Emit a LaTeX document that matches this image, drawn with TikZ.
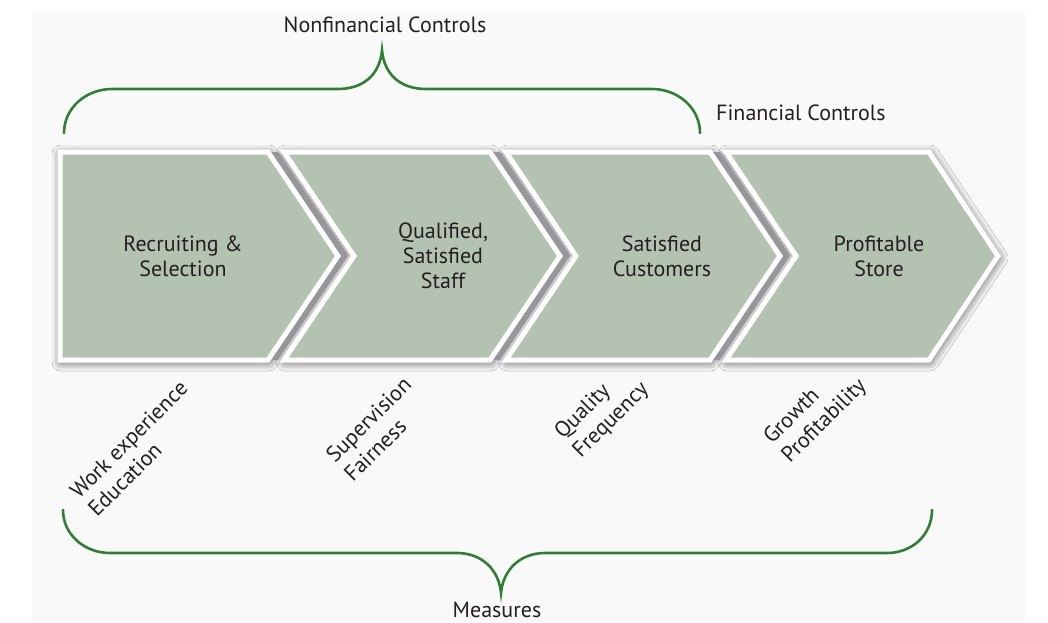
\documentclass[tikz,border=0pt]{standalone}
\usepackage{fontspec}
\setmainfont{PT Sans}
\usetikzlibrary{shadows.blur}
\definecolor{bgpanel}{HTML}{F9F9F9}
\definecolor{boxgreen}{RGB}{180,195,177}
\definecolor{bandgray}{RGB}{150,150,155}
\definecolor{bracegreen}{RGB}{47,127,51}
\definecolor{txt}{HTML}{231F20}
\tikzset{
  chev/.style={fill=boxgreen, draw=white, line width=5pt, line join=miter},
  softshadow/.style={blur shadow={shadow xshift=1pt, shadow yshift=-2pt, shadow blur radius=9pt, shadow opacity=75}},
  band/.style={fill=bandgray},
  brace/.style={draw=bracegreen, line width=2.6pt, line cap=round},
  lbl/.style={text=txt, font=\fontsize{22}{25}\selectfont, inner sep=0pt},
  boxtxt/.style={lbl, align=center},
  meas/.style={lbl, rotate=45, anchor=base west},
}
\begin{document}
\begin{tikzpicture}[x=1pt,y=-1pt]
\useasboundingbox (0,0) rectangle (1048,622);
\fill[white] (0,0) rectangle (1048,622);
\fill[bgpanel] (32,12) rectangle (1025,622);

% soft shadows
\path[softshadow, fill=bgpanel] (60,152) -- (268,152) -- (338,256) -- (268,360) -- (60,360) -- cycle;
\path[softshadow, fill=bgpanel] (284,152) -- (490,152) -- (560,256) -- (490,360) -- (284,360) -- (354,256) -- cycle;
\path[softshadow, fill=bgpanel] (506,152) -- (710,152) -- (780,256) -- (710,360) -- (506,360) -- (576,256) -- cycle;
\path[softshadow, fill=bgpanel] (726,152) -- (929,152) -- (998,256) -- (929,360) -- (726,360) -- (796,256) -- cycle;

% chevron 1
\fill[band] (70,152) -- (278,152) -- (348,256) -- (278,360) -- (70,360) -- cycle;
\path[chev] (60,152) -- (268,152) -- (338,256) -- (268,360) -- (60,360) -- cycle;
% chevron 2
\fill[band] (294,152) -- (500,152) -- (570,256) -- (500,360) -- (294,360) -- (364,256) -- cycle;
\path[chev] (284,152) -- (490,152) -- (560,256) -- (490,360) -- (284,360) -- (354,256) -- cycle;
% chevron 3
\fill[band] (516,152) -- (720,152) -- (790,256) -- (720,360) -- (516,360) -- (586,256) -- cycle;
\path[chev] (506,152) -- (710,152) -- (780,256) -- (710,360) -- (506,360) -- (576,256) -- cycle;
% chevron 4
\path[chev] (726,152) -- (929,152) -- (998,256) -- (929,360) -- (726,360) -- (796,256) -- cycle;

% box texts
\node[boxtxt] (t1) at (183,256) {Recruiting \&\\Selection};
\node[boxtxt] (t2) at (443,256) {Qualified,\\Satisfied\\Staff};
\node[boxtxt] (t3) at (662,256) {Satisfied\\Customers};
\node[boxtxt] (t4) at (879,256) {Profitable\\Store};

% header labels
\node[lbl, anchor=base] (nonfin) at (385,32) {Nonfinancial Controls};
\node[lbl, anchor=base west] (fin) at (716,120) {Financial Controls};
\node[lbl, anchor=base] (meas) at (497,617) {Measures};

% rotated measures
\node[meas] (m1a) at (79,500) {Work experience};
\node[meas] (m1b) at (97,518) {Education};
\node[meas] (m2a) at (335,464) {Supervision};
\node[meas] (m2b) at (353,483) {Fairness};
\node[meas] (m3a) at (563,440) {Quality};
\node[meas] (m3b) at (581,459) {Frequency};
\node[meas] (m4a) at (772,445) {Growth};
\node[meas] (m4b) at (790,464) {Profitability};

% top brace
\path[brace] (64,133) .. controls (64,108) and (86,89) .. (112,89) -- (338,89)
  .. controls (364,89) and (380,74) .. (382,50)
  .. controls (384,74) and (400,89) .. (426,89) -- (652,89)
  .. controls (678,89) and (700,108) .. (700,133);
% bottom brace
\path[brace] (63,510) .. controls (63,535) and (85,553) .. (110,553) -- (457,553)
  .. controls (482,553) and (499,570) .. (501,593)
  .. controls (503,570) and (520,553) .. (545,553) -- (887,553)
  .. controls (912,553) and (932,535) .. (932,510);
\end{tikzpicture}
\end{document}
